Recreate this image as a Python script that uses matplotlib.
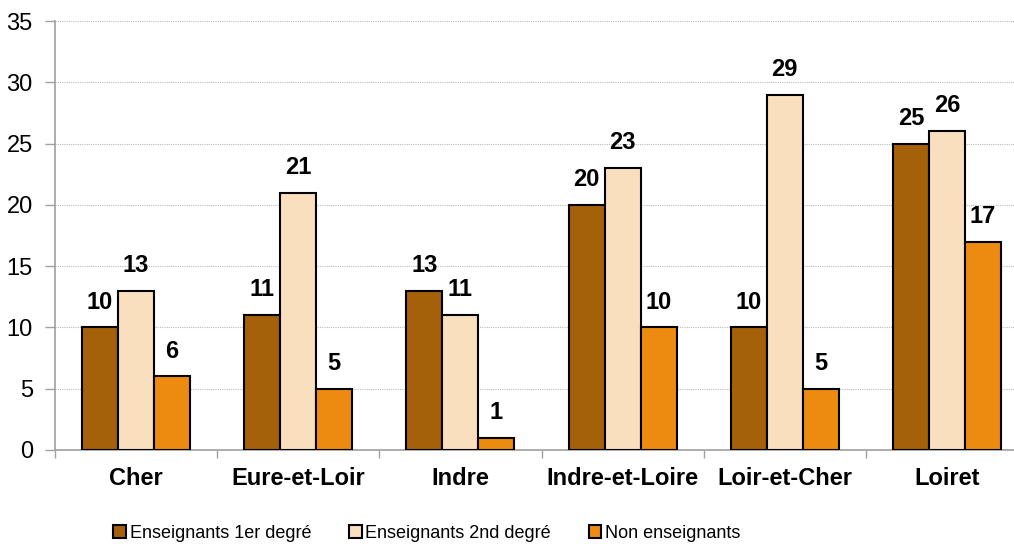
import numpy as np
import matplotlib
matplotlib.use('Agg')
import matplotlib.pyplot as plt

departements = ['Cher', 'Eure-et-Loir', 'Indre', 'Indre-et-Loire', 'Loir-et-Cher', 'Loiret']
ens_1er = [10, 11, 13, 20, 10, 25]
ens_2nd = [13, 21, 11, 23, 29, 26]
non_ens = [6, 5, 1, 10, 5, 17]
series_names = ['Enseignants 1er degré', 'Enseignants 2nd degré', 'Non enseignants']
couleurs = ['#A5600A', '#F9DFBD', '#EC8B10']

plt.rcParams['font.family'] = ['Liberation Sans', 'DejaVu Sans']

fig = plt.figure(figsize=(10.14, 5.46), dpi=100)
# axes run a little past the right edge, as in the original
ax = fig.add_axes([55 / 1014, 1 - 450 / 546, 973 / 1014, 429 / 546])

x = np.arange(len(departements))
w = 0.222
for i, (vals, nom, c) in enumerate(zip([ens_1er, ens_2nd, non_ens], series_names, couleurs)):
    pos = x + (i - 1) * w
    ax.bar(pos, vals, width=w, color=c, edgecolor='black', linewidth=1.5,
           label=nom, zorder=3)
    for xp, v in zip(pos, vals):
        ax.annotate(str(v), (xp, v), xytext=(0, 10), textcoords='offset points',
                    ha='center', va='bottom', fontsize=17, fontweight='bold')

ax.set_xlim(-0.5, len(departements) - 0.5)
ax.set_ylim(0, 35)
ax.set_yticks(range(0, 36, 5))
ax.set_xticks(x)
ax.set_xticklabels(departements, fontsize=17, fontweight='bold')
ax.set_xticks(np.arange(-0.5, len(departements), 1), minor=True)
ax.tick_params(axis='x', which='major', length=0, pad=12)
ax.tick_params(axis='x', which='minor', length=6, color='#A0A0A0', width=1)
ax.tick_params(axis='y', length=7, color='#A0A0A0', width=1, pad=9, labelsize=17)

ax.grid(axis='y', linestyle=(0, (1, 1)), color='#BBBBBB', linewidth=0.8, zorder=0)
for s in ['top', 'right']:
    ax.spines[s].set_visible(False)
for s in ['left', 'bottom']:
    ax.spines[s].set_color('#A0A0A0')
    ax.spines[s].set_linewidth(1.2)

fig.legend(loc='center left', bbox_to_anchor=(97 / 1014, 1 - 533 / 546), ncol=3,
           frameon=False, handlelength=0.7, handleheight=0.7, handletextpad=0.2,
           columnspacing=2.1, prop={'size': 13})

fig.savefig('out.png', dpi=100)
